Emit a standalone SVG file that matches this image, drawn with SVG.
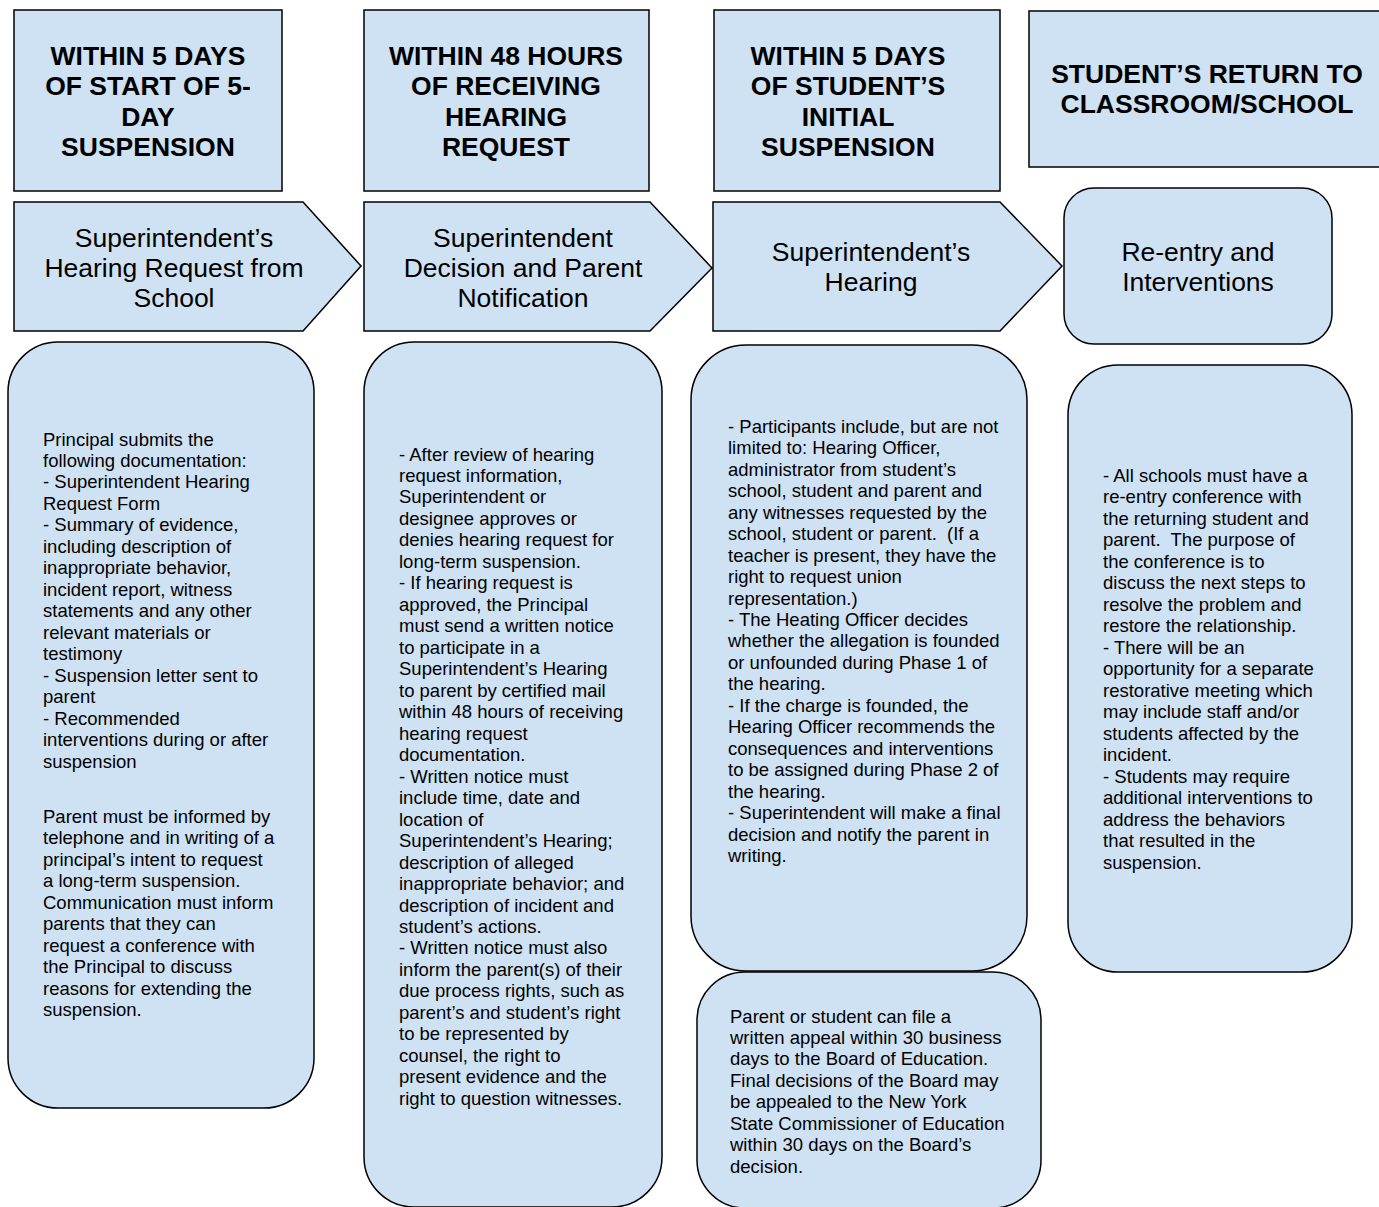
<svg xmlns="http://www.w3.org/2000/svg" width="1379" height="1207" viewBox="0 0 1379 1207">
<style>
.shape{fill:#cfe2f3;stroke:#000;stroke-width:1.5}
.hd{font-family:"Liberation Sans",Arial,sans-serif;font-weight:bold;font-size:26.5px;fill:#000;text-anchor:middle}
.st{font-family:"Liberation Sans",Arial,sans-serif;font-size:26.5px;fill:#000;text-anchor:middle}
.bd{font-family:"Liberation Sans",Arial,sans-serif;font-size:18.5px;fill:#000}
</style>
<rect width="1379" height="1207" fill="#fff"/>
<g id="header1"><rect class="shape" x="14" y="10" width="268" height="181"/>
<text class="hd"><tspan x="148" y="65">WITHIN 5 DAYS</tspan><tspan x="148" y="95">OF START OF 5-</tspan><tspan x="148" y="126">DAY</tspan><tspan x="148" y="156">SUSPENSION</tspan></text></g>
<g id="header2"><rect class="shape" x="364" y="10" width="285" height="181"/>
<text class="hd"><tspan x="506" y="65">WITHIN 48 HOURS</tspan><tspan x="506" y="95">OF RECEIVING</tspan><tspan x="506" y="126">HEARING</tspan><tspan x="506" y="156">REQUEST</tspan></text></g>
<g id="header3"><rect class="shape" x="714" y="10" width="286" height="181"/>
<text class="hd"><tspan x="848" y="65">WITHIN 5 DAYS</tspan><tspan x="848" y="95">OF STUDENT’S</tspan><tspan x="848" y="126">INITIAL</tspan><tspan x="848" y="156">SUSPENSION</tspan></text></g>
<g id="header4"><rect class="shape" x="1029" y="11" width="360" height="156"/>
<text class="hd"><tspan x="1207" y="83">STUDENT’S RETURN TO</tspan><tspan x="1207" y="113">CLASSROOM/SCHOOL</tspan></text></g>

<g id="step1"><path class="shape" d="M14,202 L303,202 L361,266 L303,331 L14,331 Z"/>
<text class="st"><tspan x="174" y="247">Superintendent’s</tspan><tspan x="174" y="277">Hearing Request from</tspan><tspan x="174" y="307">School</tspan></text></g>
<g id="step2"><path class="shape" d="M364,202 L650,202 L712,268 L650,331 L364,331 Z"/>
<text class="st"><tspan x="523" y="247">Superintendent</tspan><tspan x="523" y="277">Decision and Parent</tspan><tspan x="523" y="307">Notification</tspan></text></g>
<g id="step3"><path class="shape" d="M713,202 L1000,202 L1062,266 L1000,331 L713,331 Z"/>
<text class="st"><tspan x="871" y="261">Superintendent’s</tspan><tspan x="871" y="291">Hearing</tspan></text></g>
<g id="step4"><rect class="shape" x="1064" y="188" width="268" height="156" rx="30" ry="30"/>
<text class="st"><tspan x="1198" y="261">Re-entry and</tspan><tspan x="1198" y="291">Interventions</tspan></text></g>

<g id="detail1"><rect class="shape" x="8" y="342" width="306" height="766" rx="50" ry="50"/>
<text class="bd">
<tspan x="43" y="446">Principal submits the</tspan>
<tspan x="43" y="467">following documentation:</tspan>
<tspan x="43" y="488">- Superintendent Hearing</tspan>
<tspan x="43" y="510">Request Form</tspan>
<tspan x="43" y="531">- Summary of evidence,</tspan>
<tspan x="43" y="553">including description of</tspan>
<tspan x="43" y="574">inappropriate behavior,</tspan>
<tspan x="43" y="596">incident report, witness</tspan>
<tspan x="43" y="617">statements and any other</tspan>
<tspan x="43" y="639">relevant materials or</tspan>
<tspan x="43" y="660">testimony</tspan>
<tspan x="43" y="682">- Suspension letter sent to</tspan>
<tspan x="43" y="703">parent</tspan>
<tspan x="43" y="725">- Recommended</tspan>
<tspan x="43" y="746">interventions during or after</tspan>
<tspan x="43" y="768">suspension</tspan>
<tspan x="43" y="823">Parent must be informed by</tspan>
<tspan x="43" y="844">telephone and in writing of a</tspan>
<tspan x="43" y="866">principal’s intent to request</tspan>
<tspan x="43" y="887">a long-term suspension.</tspan>
<tspan x="43" y="909">Communication must inform</tspan>
<tspan x="43" y="930">parents that they can</tspan>
<tspan x="43" y="952">request a conference with</tspan>
<tspan x="43" y="973">the Principal to discuss</tspan>
<tspan x="43" y="995">reasons for extending the</tspan>
<tspan x="43" y="1016">suspension.</tspan>
</text></g>

<g id="detail2"><rect class="shape" x="364" y="342" width="298" height="865" rx="50" ry="50"/>
<text class="bd">
<tspan x="399" y="461">- After review of hearing</tspan>
<tspan x="399" y="482">request information,</tspan>
<tspan x="399" y="503">Superintendent or</tspan>
<tspan x="399" y="525">designee approves or</tspan>
<tspan x="399" y="546">denies hearing request for</tspan>
<tspan x="399" y="568">long-term suspension.</tspan>
<tspan x="399" y="589">- If hearing request is</tspan>
<tspan x="399" y="611">approved, the Principal</tspan>
<tspan x="399" y="632">must send a written notice</tspan>
<tspan x="399" y="654">to participate in a</tspan>
<tspan x="399" y="675">Superintendent’s Hearing</tspan>
<tspan x="399" y="697">to parent by certified mail</tspan>
<tspan x="399" y="718">within 48 hours of receiving</tspan>
<tspan x="399" y="740">hearing request</tspan>
<tspan x="399" y="761">documentation.</tspan>
<tspan x="399" y="783">- Written notice must</tspan>
<tspan x="399" y="804">include time, date and</tspan>
<tspan x="399" y="826">location of</tspan>
<tspan x="399" y="847">Superintendent’s Hearing;</tspan>
<tspan x="399" y="869">description of alleged</tspan>
<tspan x="399" y="890">inappropriate behavior; and</tspan>
<tspan x="399" y="912">description of incident and</tspan>
<tspan x="399" y="933">student’s actions.</tspan>
<tspan x="399" y="954">- Written notice must also</tspan>
<tspan x="399" y="976">inform the parent(s) of their</tspan>
<tspan x="399" y="997">due process rights, such as</tspan>
<tspan x="399" y="1019">parent’s and student’s right</tspan>
<tspan x="399" y="1040">to be represented by</tspan>
<tspan x="399" y="1062">counsel, the right to</tspan>
<tspan x="399" y="1083">present evidence and the</tspan>
<tspan x="399" y="1105">right to question witnesses.</tspan>
</text></g>

<g id="detail3"><rect class="shape" x="691" y="345" width="336" height="626" rx="55" ry="55"/>
<text class="bd">
<tspan x="728" y="433">- Participants include, but are not</tspan>
<tspan x="728" y="454">limited to: Hearing Officer,</tspan>
<tspan x="728" y="476">administrator from student’s</tspan>
<tspan x="728" y="497">school, student and parent and</tspan>
<tspan x="728" y="519">any witnesses requested by the</tspan>
<tspan x="728" y="540" xml:space="preserve">school, student or parent.  (If a</tspan>
<tspan x="728" y="562">teacher is present, they have the</tspan>
<tspan x="728" y="583">right to request union</tspan>
<tspan x="728" y="605">representation.)</tspan>
<tspan x="728" y="626">- The Heating Officer decides</tspan>
<tspan x="728" y="647">whether the allegation is founded</tspan>
<tspan x="728" y="669">or unfounded during Phase 1 of</tspan>
<tspan x="728" y="690">the hearing.</tspan>
<tspan x="728" y="712">- If the charge is founded, the</tspan>
<tspan x="728" y="733">Hearing Officer recommends the</tspan>
<tspan x="728" y="755">consequences and interventions</tspan>
<tspan x="728" y="776">to be assigned during Phase 2 of</tspan>
<tspan x="728" y="798">the hearing.</tspan>
<tspan x="728" y="819">- Superintendent will make a final</tspan>
<tspan x="728" y="841">decision and notify the parent in</tspan>
<tspan x="728" y="862">writing.</tspan>
</text></g>

<g id="appeal"><rect class="shape" x="697" y="972" width="344" height="236" rx="48" ry="48"/>
<text class="bd">
<tspan x="730" y="1023">Parent or student can file a</tspan>
<tspan x="730" y="1044">written appeal within 30 business</tspan>
<tspan x="730" y="1065">days to the Board of Education.</tspan>
<tspan x="730" y="1087">Final decisions of the Board may</tspan>
<tspan x="730" y="1108">be appealed to the New York</tspan>
<tspan x="730" y="1130">State Commissioner of Education</tspan>
<tspan x="730" y="1151">within 30 days on the Board’s</tspan>
<tspan x="730" y="1173">decision.</tspan>
</text></g>

<g id="detail4"><rect class="shape" x="1068" y="365" width="284" height="607" rx="50" ry="50"/>
<text class="bd">
<tspan x="1103" y="482">- All schools must have a</tspan>
<tspan x="1103" y="503">re-entry conference with</tspan>
<tspan x="1103" y="525">the returning student and</tspan>
<tspan x="1103" y="546" xml:space="preserve">parent.  The purpose of</tspan>
<tspan x="1103" y="568">the conference is to</tspan>
<tspan x="1103" y="589">discuss the next steps to</tspan>
<tspan x="1103" y="611">resolve the problem and</tspan>
<tspan x="1103" y="632">restore the relationship.</tspan>
<tspan x="1103" y="654">- There will be an</tspan>
<tspan x="1103" y="675">opportunity for a separate</tspan>
<tspan x="1103" y="697">restorative meeting which</tspan>
<tspan x="1103" y="718">may include staff and/or</tspan>
<tspan x="1103" y="740">students affected by the</tspan>
<tspan x="1103" y="761">incident.</tspan>
<tspan x="1103" y="783">- Students may require</tspan>
<tspan x="1103" y="804">additional interventions to</tspan>
<tspan x="1103" y="826">address the behaviors</tspan>
<tspan x="1103" y="847">that resulted in the</tspan>
<tspan x="1103" y="869">suspension.</tspan>
</text></g>
<g id="connectors"></g>
</svg>
